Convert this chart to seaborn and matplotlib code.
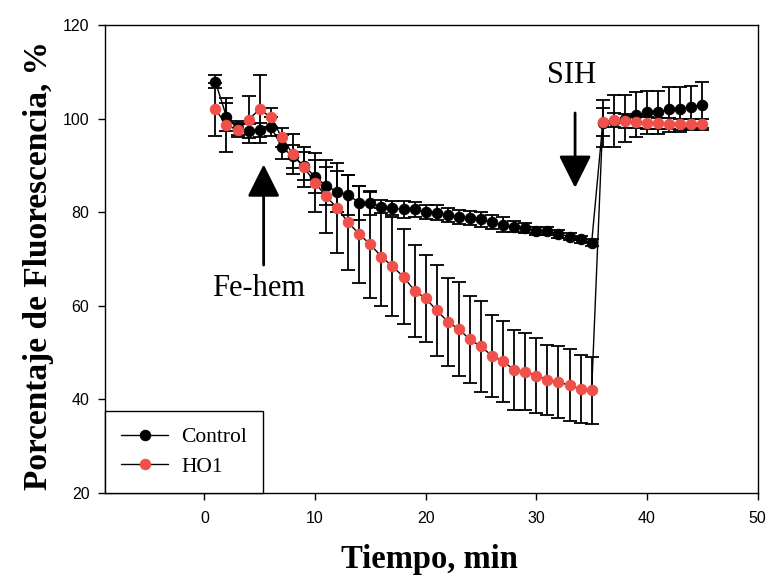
import matplotlib
matplotlib.use('Agg')
import matplotlib.pyplot as plt
import seaborn as sns
import pandas as pd

# Tiempo (min) and mean fluorescence for each group
tiempo = list(range(1, 46))

control = [107.9, 100.4, 97.9, 97.3, 97.6, 98.3, 93.9, 91.9, 89.9, 87.6,
           85.6, 84.4, 83.7, 82.0, 81.9, 81.2, 80.8, 80.6, 80.6, 80.1,
           79.9, 79.4, 78.9, 78.7, 78.5, 77.8, 77.3, 76.9, 76.6, 76.0,
           76.0, 75.3, 74.8, 74.2, 73.5, 99.0, 99.5, 100.0, 100.8, 101.3,
           101.3, 102.0, 102.0, 102.5, 102.9]
control_err = [1.4, 3.0, 1.5, 1.5, 1.5, 2.0, 2.5, 2.5, 3.0, 3.5,
               4.0, 4.3, 4.3, 3.6, 2.5, 1.4, 1.5, 1.8, 1.6, 1.5,
               1.6, 1.5, 1.5, 1.5, 1.6, 1.5, 1.6, 1.2, 1.0, 0.8,
               0.8, 0.8, 0.8, 0.8, 0.8, 5.0, 5.5, 5.0, 4.8, 4.5,
               4.5, 4.8, 4.8, 4.5, 5.0]

ho1 = [102.0, 98.6, 97.6, 99.8, 102.0, 100.3, 96.0, 92.4, 89.6, 86.3,
       83.4, 80.9, 77.8, 75.3, 73.1, 70.5, 68.4, 66.2, 63.2, 61.6,
       59.0, 56.6, 55.0, 52.8, 51.3, 49.3, 48.1, 46.3, 45.9, 45.1,
       44.2, 43.7, 43.0, 42.2, 41.9, 99.3, 99.6, 99.4, 99.2, 99.0,
       99.0, 98.9, 98.8, 98.8, 98.8]
ho1_err = [5.7, 5.7, 1.5, 5.0, 7.3, 2.0, 2.0, 4.3, 4.3, 6.3,
           7.8, 9.6, 10.1, 10.4, 11.4, 10.5, 10.6, 10.1, 9.8, 9.3,
           9.7, 9.4, 10.1, 9.2, 9.7, 8.7, 8.6, 8.6, 8.2, 8.1,
           7.5, 7.7, 7.7, 7.2, 7.2, 3.0, 1.5, 1.5, 1.3, 1.3,
           1.2, 1.2, 1.2, 1.2, 1.2]

df = pd.DataFrame({'Tiempo': tiempo, 'Control': control, 'ControlErr': control_err,
                   'HO1': ho1, 'HO1Err': ho1_err})

sns.set_style('ticks')
plt.rcParams['font.family'] = ['Liberation Sans', 'DejaVu Sans']
plt.rcParams['text.color'] = 'black'
plt.rcParams['axes.labelcolor'] = 'black'

red = '#F0504A'

fig = plt.figure(figsize=(7.7, 5.81), dpi=100)
ax = fig.add_axes([0.136, 0.1515, 0.848, 0.8055])

# error bars first, then lines + markers on top
ax.errorbar(df['Tiempo'], df['Control'], yerr=df['ControlErr'], fmt='none',
            ecolor='black', elinewidth=1.3, capsize=5, capthick=1.3, zorder=2)
ax.errorbar(df['Tiempo'], df['HO1'], yerr=df['HO1Err'], fmt='none',
            ecolor='black', elinewidth=1.3, capsize=5, capthick=1.3, zorder=2)

sns.lineplot(data=df, x='Tiempo', y='Control', ax=ax, color='black', lw=1,
             marker='o', markersize=7.5, markerfacecolor='black',
             markeredgecolor='black', label='Control', zorder=3)
sns.lineplot(data=df, x='Tiempo', y='HO1', ax=ax, color='black', lw=1,
             marker='o', markersize=7.5, markerfacecolor=red,
             markeredgecolor=red, label='HO1', zorder=4)

ax.set_xlim(-9, 50)
ax.set_ylim(20, 120)
ax.set_xticks([0, 10, 20, 30, 40, 50])
ax.set_yticks([20, 40, 60, 80, 100, 120])
ax.tick_params(axis='both', direction='out', length=5, width=1, labelsize=11.5,
               colors='black', pad=6)
ax.tick_params(axis='x', pad=8)
for s in ax.spines.values():
    s.set_visible(True)
    s.set_linewidth(1)
    s.set_color('black')

serif = ['Liberation Serif', 'DejaVu Serif']
ax.set_xlabel('Tiempo, min', fontsize=23.5, fontweight='bold', family=serif,
              va='top', color='black')
ax.set_ylabel('Porcentaje de Fluorescencia, %', fontsize=24, fontweight='bold',
              family=serif, color='black')
ax.xaxis.set_label_coords(0.498, -0.11)
ax.yaxis.set_label_coords(-0.078, 0.487)

# treatment markers
arrow = dict(arrowstyle='-|>,head_length=1.0,head_width=0.5', color='black',
             lw=2, mutation_scale=20, shrinkA=0, shrinkB=0)
ax.annotate('', xy=(5.36, 90.2), xytext=(5.36, 68.7), arrowprops=arrow)
ax.annotate('', xy=(33.5, 85.2), xytext=(33.5, 101.2), arrowprops=arrow)
ax.text(4.9, 63.6, 'Fe-hem', fontsize=22, family=serif, ha='center',
        va='center', color='black')
ax.text(33.2, 109.3, 'SIH', fontsize=22, family=serif, ha='center',
        va='center', color='black')

leg = ax.legend(loc='lower left', bbox_to_anchor=(0, 0), borderaxespad=0,
                frameon=True, fancybox=False, edgecolor='black', framealpha=1,
                prop={'family': serif, 'size': 15.5}, handlelength=2.2,
                labelspacing=0.45, borderpad=0.75, handletextpad=0.6)
leg.get_frame().set_linewidth(1)
for t in leg.get_texts():
    t.set_color('black')

fig.savefig('out.png', dpi=100)
